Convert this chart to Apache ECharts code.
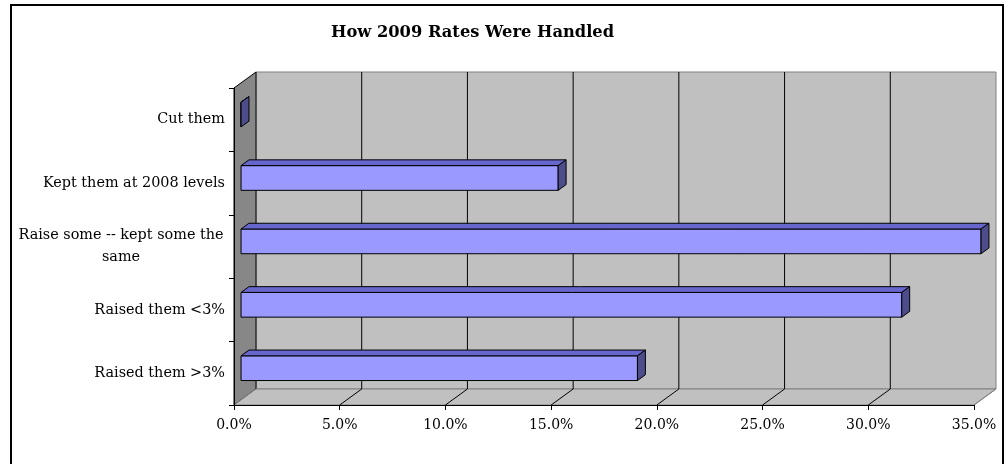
<!DOCTYPE html>
<html>

	<head>
		<meta charset="UTF-8">
		<title>How 2009 Rates Were Handled</title>
		<script src="https://cdn.jsdelivr.net/npm/echarts@6/dist/echarts.min.js"></script>
		<style>
			html, body { margin: 0; padding: 0; background: #fff; }
			#main { width: 1006px; height: 464px; }
		</style>
	</head>

	<body>
		<div id="main"></div>

		<script type="text/javascript">
			// 数据
			var categories = ['Cut them', 'Kept them at 2008 levels', 'Raise some -- kept some the same', 'Raised them <3%', 'Raised them >3%'];
			var values = [0, 15.0, 35.0, 31.25, 18.75];
			var tickValues = [0, 5, 10, 15, 20, 25, 30, 35];

			// 3D 深度偏移
			var DX = 22, DY = 16;
			var FRONT = 0.32, BACK = 0.68;
			var FONT = 'DejaVu Serif';

			var myChart = echarts.init(document.getElementById('main'));

			function poly(points, fill, stroke, z) {
				return {
					type: 'polygon',
					shape: { points: points },
					style: { fill: fill, stroke: stroke, lineWidth: 1 },
					z2: z || 0
				};
			}

			// 墙壁和地板
			function renderWalls(params, api) {
				var cs = params.coordSys;
				var x0 = cs.x, y0 = cs.y, x1 = cs.x + cs.width, y1 = cs.y + cs.height;
				var children = [];
				// back wall
				children.push({
					type: 'rect',
					shape: { x: x0 + DX, y: y0 - DY, width: cs.width, height: cs.height },
					style: { fill: '#c0c0c0', stroke: '#808080', lineWidth: 1 }
				});
				// left wall
				children.push(poly([[x0, y0], [x0 + DX, y0 - DY], [x0 + DX, y1 - DY], [x0, y1]], '#878787', '#000'));
				// floor
				children.push(poly([[x0, y1], [x0 + DX, y1 - DY], [x1 + DX, y1 - DY], [x1, y1]], '#c0c0c0', '#808080'));
				for (var i = 1; i < tickValues.length; i++) {
					var px = api.coord([tickValues[i], 0])[0];
					var last = i === tickValues.length - 1;
					if (!last) {
						children.push({
							type: 'line',
							shape: { x1: px + DX, y1: y0 - DY, x2: px + DX, y2: y1 - DY },
							style: { stroke: '#000', lineWidth: 1 }
						});
					}
					children.push({
						type: 'line',
						shape: { x1: px + DX, y1: y1 - DY, x2: px, y2: y1 },
						style: { stroke: last ? '#808080' : '#000', lineWidth: 1 }
					});
				}
				return { type: 'group', children: children };
			}

			// 立体条形
			function renderBar(params, api) {
				var idx = api.value(0);
				var v = api.value(1);
				var start = api.coord([0, idx]);
				var end = api.coord([v, idx]);
				var band = api.size([0, 1])[1];
				var h = band * 0.39;
				var fx = DX * FRONT, fy = DY * FRONT;
				var bx = DX * BACK, by = DY * BACK;
				var xs = start[0] + fx, xe = end[0] + fx;
				var top = start[1] - h / 2 - fy, bot = start[1] + h / 2 - fy;
				var dx = bx - fx, dy = by - fy;
				return {
					type: 'group',
					children: [
						poly([[xs, top], [xe, top], [xe, bot], [xs, bot]], '#9999ff', '#000'),
						poly([[xs, top], [xs + dx, top - dy], [xe + dx, top - dy], [xe, top]], '#6666cc', '#000'),
						poly([[xe, top], [xe + dx, top - dy], [xe + dx, bot - dy], [xe, bot]], '#4d4d8c', '#000')
					]
				};
			}

			var barData = categories.map(function(c, i) { return [i, values[i]]; });

			myChart.setOption({
				animation: false,
				textStyle: { fontFamily: FONT },
				title: {
					text: 'How 2009 Rates Were Handled',
					left: 326,
					top: 20,
					textStyle: { fontSize: 16.3, fontWeight: 'bold', color: '#000', fontFamily: FONT }
				},
				graphic: [{
					type: 'rect',
					shape: { x: 11, y: 5, width: 992, height: 470 },
					style: { fill: 'none', stroke: '#000', lineWidth: 2 },
					z: 100
				}],
				grid: {
					left: 234,
					right: 32,
					top: 88,
					bottom: 59
				},
				xAxis: {
					type: 'value',
					min: 0,
					max: 35,
					interval: 5,
					z: 10,
					axisLine: { show: true, lineStyle: { color: '#000', width: 1 } },
					axisTick: { show: true, length: 5, lineStyle: { color: '#000' } },
					splitLine: { show: false },
					axisLabel: {
						margin: 13,
						fontSize: 14,
						color: '#000',
						fontFamily: FONT,
						formatter: function(v) { return v.toFixed(1) + '%'; }
					}
				},
				yAxis: {
					type: 'category',
					inverse: true,
					data: categories,
					z: 10,
					axisLine: { show: true, lineStyle: { color: '#000', width: 1 } },
					axisTick: { show: true, length: 5, lineStyle: { color: '#000' } },
					axisLabel: {
						margin: 9,
						fontSize: 14.4,
						color: '#000',
						fontFamily: FONT,
						formatter: function(v) {
							if (v.length > 27) {
								return '{c|Raise some -- kept some the}\n{c|same}';
							}
							return v;
						},
						rich: {
							c: { width: 208, align: 'center', fontSize: 14.4, fontFamily: FONT, color: '#000', lineHeight: 22 }
						}
					}
				},
				series: [{
					type: 'custom',
					name: 'walls',
					silent: true,
					z: 0,
					data: [[0, 0]],
					renderItem: renderWalls
				}, {
					type: 'custom',
					name: 'bars',
					z: 5,
					data: barData,
					encode: { x: 1, y: 0 },
					renderItem: renderBar
				}]
			});
		</script>

	</body>

</html>
